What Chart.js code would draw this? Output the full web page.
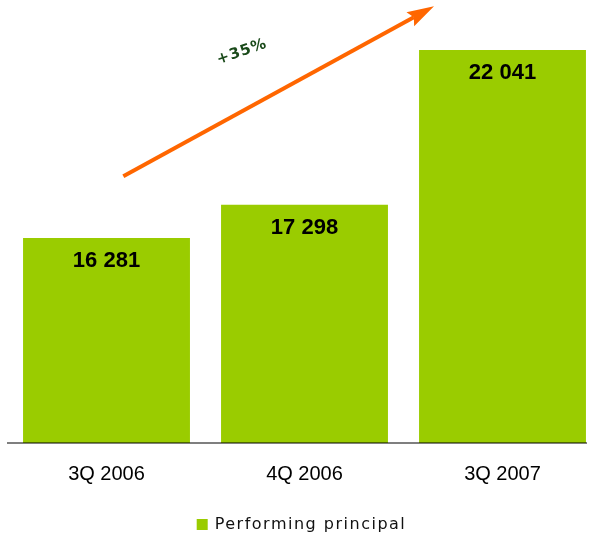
<!DOCTYPE html>
<html>
<head>
<meta charset="utf-8">
<script src="https://cdn.jsdelivr.net/npm/chart.js@4/dist/chart.umd.min.js"></script>
<style>
html, body { margin: 0; padding: 0; background: #fff; }
#wrap { width: 595px; height: 535px; }
</style>
</head>
<body>
<div id="wrap"><canvas id="bar-chartcanvas"></canvas></div>
<script>
var trimestres = ['3Q 2006', '4Q 2006', '3Q 2007'];
var principal = [16281, 17298, 22041];
var serieLabel = 'Performing principal';
var verde = '#9acc00';

// the bars sit on a linear x scale, quarter i at x = i
var puntos = [];
for (var i in principal) {
    puntos.push({ x: Number(i), y: principal[i] });
}

function formato(v) {
    return String(v).replace(/\B(?=(\d{3})+(?!\d))/g, ' ');
}

var crecimiento = Math.round((principal[2] / principal[0] - 1) * 100);

// value written inside the top of each bar
var etiquetas = {
    id: 'etiquetas',
    afterDatasetsDraw: function(chart) {
        var ctx = chart.ctx;
        var meta = chart.getDatasetMeta(0);
        ctx.save();
        ctx.font = 'bold 22px "Liberation Sans", Arial, sans-serif';
        ctx.fillStyle = '#000';
        ctx.textAlign = 'center';
        ctx.textBaseline = 'middle';
        meta.data.forEach(function(bar, i) {
            ctx.fillText(formato(principal[i]), bar.x, bar.y + 23);
        });
        ctx.restore();
    }
};

// orange growth arrow with the percentage above it
var flecha = {
    id: 'flecha',
    afterDraw: function(chart) {
        var x = chart.scales.x, y = chart.scales.y, ctx = chart.ctx;
        var x0 = x.getPixelForValue(0.085), y0 = y.getPixelForValue(18170);
        var x1 = x.getPixelForValue(1.654), y1 = y.getPixelForValue(23380);
        var ang = Math.atan2(y1 - y0, x1 - x0);
        var largo = 27, ancho = 8;
        ctx.save();
        ctx.strokeStyle = '#ff6600';
        ctx.fillStyle = '#ff6600';
        ctx.lineWidth = 4;
        ctx.beginPath();
        ctx.moveTo(x0, y0);
        ctx.lineTo(x1 - (largo - 4) * Math.cos(ang), y1 - (largo - 4) * Math.sin(ang));
        ctx.stroke();
        ctx.translate(x1, y1);
        ctx.rotate(ang);
        ctx.beginPath();
        ctx.moveTo(0, 0);
        ctx.lineTo(-largo, -ancho);
        ctx.lineTo(-largo + 4, 0);
        ctx.lineTo(-largo, ancho);
        ctx.closePath();
        ctx.fill();
        ctx.restore();

        ctx.save();
        ctx.translate(x.getPixelForValue(0.684), y.getPixelForValue(21980));
        ctx.rotate(-19 * Math.PI / 180);
        ctx.font = 'bold 15px "DejaVu Sans", sans-serif';
        ctx.letterSpacing = '1px';
        ctx.fillStyle = '#1a4a1a';
        ctx.textAlign = 'center';
        ctx.textBaseline = 'middle';
        ctx.fillText('+' + crecimiento + '%', 0, 0);
        ctx.restore();
    }
};

// legend drawn by hand so the text can be letter spaced
var leyenda = {
    id: 'leyenda',
    afterDraw: function(chart) {
        var ctx = chart.ctx;
        ctx.save();
        ctx.font = '16px "DejaVu Sans", sans-serif';
        ctx.letterSpacing = '1.5px';
        var w = ctx.measureText(serieLabel).width;
        var total = 11 + 7 + w;
        var sx = chart.width / 2 - total / 2 + 4;
        ctx.fillStyle = verde;
        ctx.fillRect(sx, 519, 11, 11);
        ctx.fillStyle = '#111';
        ctx.textBaseline = 'alphabetic';
        ctx.fillText(serieLabel, sx + 18, 529);
        ctx.restore();
    }
};

var ctx1 = document.getElementById('bar-chartcanvas');

var chart1 = new Chart(ctx1, {
    type: 'bar',
    data: {
        datasets: [{
            label: serieLabel,
            data: puntos,
            backgroundColor: verde,
            borderWidth: 0,
            categoryPercentage: 1,
            barPercentage: 0.843
        }]
    },
    options: {
        responsive: true,
        maintainAspectRatio: false,
        animation: false,
        layout: { padding: { left: 7.5, right: 9, top: 0, bottom: 30 } },
        plugins: {
            legend: { display: false },
            tooltip: { enabled: false }
        },
        scales: {
            x: {
                type: 'linear',
                offset: false,
                min: -0.5,
                max: 2.4217,
                grid: { display: false, drawTicks: false, offset: false },
                border: { display: true, color: 'rgba(0,0,0,0.5)', width: 2, z: 1 },
                afterBuildTicks: function(s) {
                    s.ticks = trimestres.map(function(t, i) { return { value: i }; });
                },
                ticks: {
                    padding: 19,
                    color: '#000',
                    font: { family: '"Liberation Sans", Arial, sans-serif', size: 20 },
                    callback: function(v) { return trimestres[v]; }
                }
            },
            y: { display: false, min: 10000, max: 23573 }
        }
    },
    plugins: [etiquetas, flecha, leyenda]
});
</script>
</body>
</html>
